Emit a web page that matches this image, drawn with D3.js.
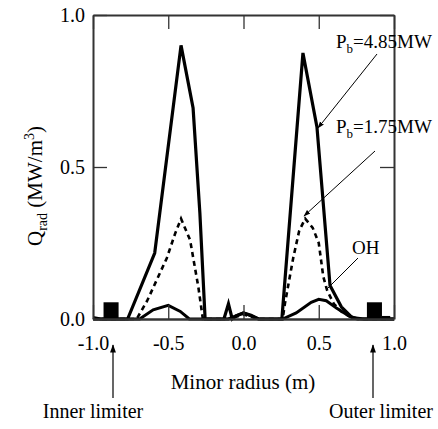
<!DOCTYPE html>
<html><head><meta charset="utf-8">
<script src="https://cdn.jsdelivr.net/npm/d3@7"></script>
<style>body{margin:0;background:#fff}svg{display:block}text{font-family:"Liberation Serif","Times New Roman",serif;fill:#000}</style>
</head><body><svg id="c" width="438" height="429"></svg>
<script>
const xTicks = [-1.0, -0.5, 0.0, 0.5, 1.0];
const yTicks = [0.0, 0.5, 1.0];

const r485 = [-1.0, -0.95, -0.77, -0.59, -0.415, -0.335, -0.29, -0.255, -0.13, -0.1, -0.075, -0.05, 0.0, 0.05, 0.1, 0.255, 0.395, 0.488, 0.575, 0.65, 0.72, 0.8, 1.0];
const q485 = [0.005, 0.0, 0.0, 0.217, 0.90, 0.694, 0.35, 0.0, 0.0, 0.05, 0.0, 0.01, 0.02, 0.012, 0.0, 0.0, 0.875, 0.632, 0.11, 0.04, 0.005, 0.0, 0.0];

const r175 = [-1.0, -0.71, -0.64, -0.51, -0.455, -0.415, -0.355, -0.3, -0.27, -0.1, 0.0, 0.1, 0.26, 0.275, 0.33, 0.37, 0.41, 0.46, 0.5, 0.53, 0.555, 0.6, 0.65, 0.7, 0.75, 1.0];
const q175 = [0.0, 0.0, 0.06, 0.2, 0.28, 0.33, 0.26, 0.105, 0.0, 0.0, 0.015, 0.0, 0.0, 0.05, 0.2, 0.29, 0.33, 0.3, 0.25, 0.14, 0.095, 0.05, 0.025, 0.01, 0.0, 0.0];

const rOH = [-1.0, -0.69, -0.6, -0.5, -0.42, -0.36, -0.1, 0.0, 0.1, 0.26, 0.35, 0.45, 0.5, 0.55, 0.62, 0.7, 0.76, 1.0];
const qOH = [0.0, 0.0, 0.03, 0.045, 0.025, 0.0, 0.0, 0.02, 0.0, 0.0, 0.02, 0.055, 0.065, 0.06, 0.035, 0.01, 0.0, 0.0];

const limX0 = [-0.93, 0.82, 0.92];
const limX1 = [-0.83, 0.92, 0.975];
const limH = [0.055, 0.055, 0.01];

const FF = '"Liberation Serif","Times New Roman",serif';
const svg = d3.select("#c");
const L = 93, R = 394, T = 15, B = 319;
const x = d3.scaleLinear().domain([-1, 1]).range([L, R]);
const y = d3.scaleLinear().domain([0, 1]).range([B, T]);
const fmt = d => d3.format(".1f")(d).replace("\u2212", "-");

// limiter shadows
svg.append("g").selectAll("rect").data(limX0).join("rect")
  .attr("x", (d, i) => x(d)).attr("width", (d, i) => x(limX1[i]) - x(d))
  .attr("y", (d, i) => y(limH[i])).attr("height", (d, i) => y(0) - y(limH[i]))
  .attr("fill", "#000");

const line = d3.line().x(d => x(d[0])).y(d => y(d[1]));
function series(r, q, dash, w) {
  svg.append("path").datum(r.map((v, i) => [v, q[i]])).attr("d", line)
    .attr("fill", "none").attr("stroke", "#000").attr("stroke-width", w)
    .attr("stroke-linejoin", "miter").attr("stroke-dasharray", dash);
}
series(rOH, qOH, null, 3);
series(r175, q175, "5,4", 2.6);
series(r485, q485, null, 3.2);

// axes
const gx = svg.append("g").attr("transform", `translate(0,${B})`)
  .call(d3.axisBottom(x).tickValues(xTicks).tickSizeInner(-14).tickSizeOuter(0).tickFormat(fmt).tickPadding(17));
const gxt = svg.append("g").attr("transform", `translate(0,${T})`)
  .call(d3.axisTop(x).tickValues(xTicks).tickSizeInner(-14).tickSizeOuter(0).tickFormat(""));
const gy = svg.append("g").attr("transform", `translate(${L},0)`)
  .call(d3.axisLeft(y).tickValues(yTicks).tickSizeInner(-14).tickSizeOuter(0).tickFormat(fmt).tickPadding(8));
const gyr = svg.append("g").attr("transform", `translate(${R},0)`)
  .call(d3.axisRight(y).tickValues(yTicks).tickSizeInner(-14).tickSizeOuter(0).tickFormat(""));
[gx, gxt, gy, gyr].forEach(g => {
  g.select(".domain").attr("stroke", "#333").attr("stroke-width", 2);
  g.selectAll(".tick line").attr("stroke", "#333").attr("stroke-width", 1.3);
  g.selectAll("text").attr("font-family", FF).attr("font-size", 20).attr("fill", "#000");
});
gx.select(".domain").attr("stroke-width", 2.5);

// axis titles
svg.append("text").attr("x", 243).attr("y", 389).attr("text-anchor", "middle")
  .attr("font-family", FF).attr("font-size", 21).text("Minor radius (m)");
const yt = svg.append("text").attr("transform", "translate(42,186) rotate(-90)").attr("text-anchor", "middle")
  .attr("font-family", FF).attr("font-size", 21);
yt.append("tspan").text("Q");
yt.append("tspan").attr("dy", 5).attr("font-size", 14).text("rad");
yt.append("tspan").attr("dy", -5).text(" (MW/m");
yt.append("tspan").attr("dy", -8).attr("font-size", 14).text("3");
yt.append("tspan").attr("dy", 8).text(")");

// annotations
svg.append("defs").append("marker").attr("id", "ah").attr("viewBox", "0 0 10 10")
  .attr("refX", 9).attr("refY", 5).attr("markerWidth", 7).attr("markerHeight", 7)
  .attr("orient", "auto").append("path").attr("d", "M0,1.5L10,5L0,8.5Z").attr("fill", "#000");

function label(xp, yp, main, sub, rest) {
  const t = svg.append("text").attr("x", xp).attr("y", yp).attr("font-family", FF).attr("font-size", 19);
  t.append("tspan").text(main);
  if (sub) {
    t.append("tspan").attr("dy", 5).attr("font-size", 13).text(sub);
    t.append("tspan").attr("dy", -5).text(rest);
  }
}
label(336, 48, "P", "b", "=4.85MW");
label(336, 133, "P", "b", "=1.75MW");
label(352, 254, "OH");

function arrow(x1, y1, x2, y2, head) {
  const l = svg.append("line").attr("x1", x1).attr("y1", y1).attr("x2", x2).attr("y2", y2)
    .attr("stroke", "#000").attr("stroke-width", 1);
  if (head) l.attr("marker-end", "url(#ah)");
}
arrow(377, 54, 318, 128, true);
arrow(375, 151, 304, 216, true);
arrow(358, 258, 326, 290, false);

// limiter arrows
svg.append("text").attr("x", 93).attr("y", 418).attr("text-anchor", "middle").attr("font-family", FF).attr("font-size", 20).text("Inner limiter");
svg.append("text").attr("x", 381).attr("y", 418).attr("text-anchor", "middle").attr("font-family", FF).attr("font-size", 20).text("Outer limiter");
const la = [[113, 398, 113, 345], [373, 398, 373, 345]];
la.forEach(a => {
  svg.append("line").attr("x1", a[0]).attr("y1", a[1]).attr("x2", a[2]).attr("y2", a[3])
    .attr("stroke", "#000").attr("stroke-width", 1.2).attr("marker-end", "url(#ah)");
});
</script></body></html>
